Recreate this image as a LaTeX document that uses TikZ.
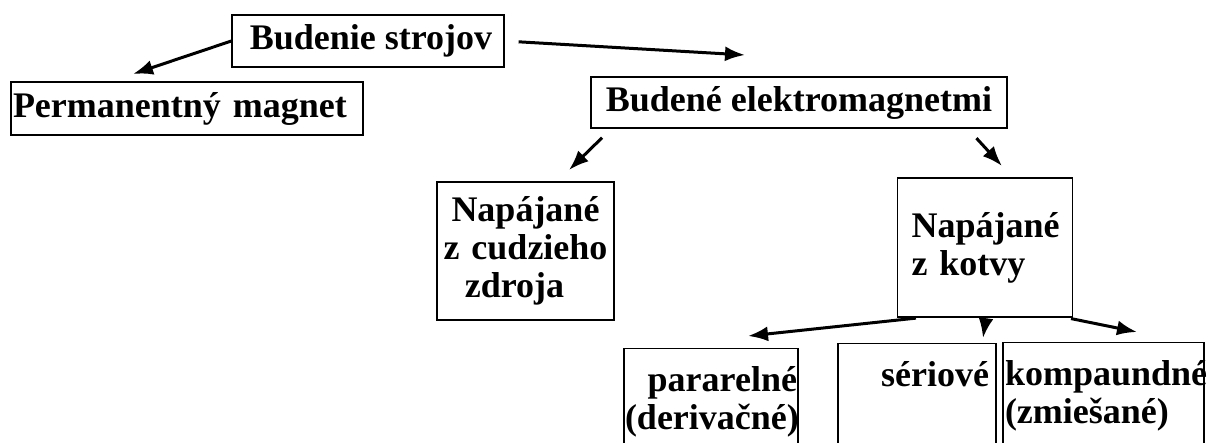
\documentclass[tikz,border=0pt]{standalone}
\usepackage{fontspec}
\setmainfont{Liberation Serif}
\usetikzlibrary{arrows.meta, positioning, calc}

\tikzset{
  box/.style={draw, line width=0.6pt, inner sep=1pt,
    font=\fontsize{18}{19}\selectfont\bfseries},
  arr/.style={-{Latex[length=10pt,width=7.5pt]}, line width=1.5pt},
}

\begin{document}
\begin{tikzpicture}[x=0.5pt, y=-0.5pt]
\useasboundingbox (0,0) rectangle (1211,443);

% top level
\node[box, minimum width=136pt, minimum height=26pt] (bud) at (368,41) {\hspace{3pt}Budenie strojov};
\node[box, minimum height=26.5pt, text width=174pt, align=left] (perm) at (187,108.5) {Permanentn\'y magnet};
\node[box, minimum width=208pt, minimum height=25.5pt] (elm) at (799,102.5) {Buden\'e elektromagnetmi};

% second level
\node[box, minimum height=69pt, text width=86.5pt, align=center] (cud) at (525.5,251)
  {Nap\'ajan\'e\\z cudzieho\\zdroja\rule{11pt}{0pt}};
\node[box, minimum height=69.5pt, inner xsep=7pt, text width=73.5pt, align=left] (kot) at (985,247.5)
  {Nap\'ajan\'e\\z kotvy};

% third level (cut by the page edge)
\node[box, anchor=north, inner ysep=9pt, inner xsep=0.5pt, text width=86pt, align=right] (par) at (711,348)
  {parareln\'e\\(deriva\v{c}n\'e)};
\node[box, anchor=north, inner ysep=9pt, inner xsep=3.5pt, text width=72pt, align=right] (ser) at (917,343)
  {s\'eriov\'e\\\strut};
\node[box, anchor=north, inner ysep=9pt, inner xsep=1pt, text width=98.5pt, align=left] (kom) at (1103.5,342)
  {kompaundn\'e\\(zmie\v{s}an\'e)};

% arrow ends
\coordinate (permTip) at (133,74);
\coordinate (elmTip) at (745,55);
\coordinate (cudTip) at (569,170);
\coordinate (kotTip) at (1002,166);
\coordinate (parTip) at (748,336);
\coordinate (serTip) at (983,338);
\coordinate (komTip) at (1137,332);

\draw[arr] (bud.west) -- (permTip);
\draw[arr, shorten <=7pt] (bud.east) -- (elmTip);
\draw[arr, shorten <=6.5pt] (elm.south west) ++(21,0) -- (cudTip);
\draw[arr, shorten <=6.5pt] (elm.south east) ++(-40,0) -- (kotTip);
\draw[arr, shorten <=2.5pt] (kot.south west) ++(24,0) -- (parTip);
\draw[arr, shorten <=2.5pt] (kot.south) ++(1,0) -- (serTip);
\draw[arr, shorten <=2.5pt] (kot.south east) ++(-7,0) -- (komTip);
\end{tikzpicture}
\end{document}
